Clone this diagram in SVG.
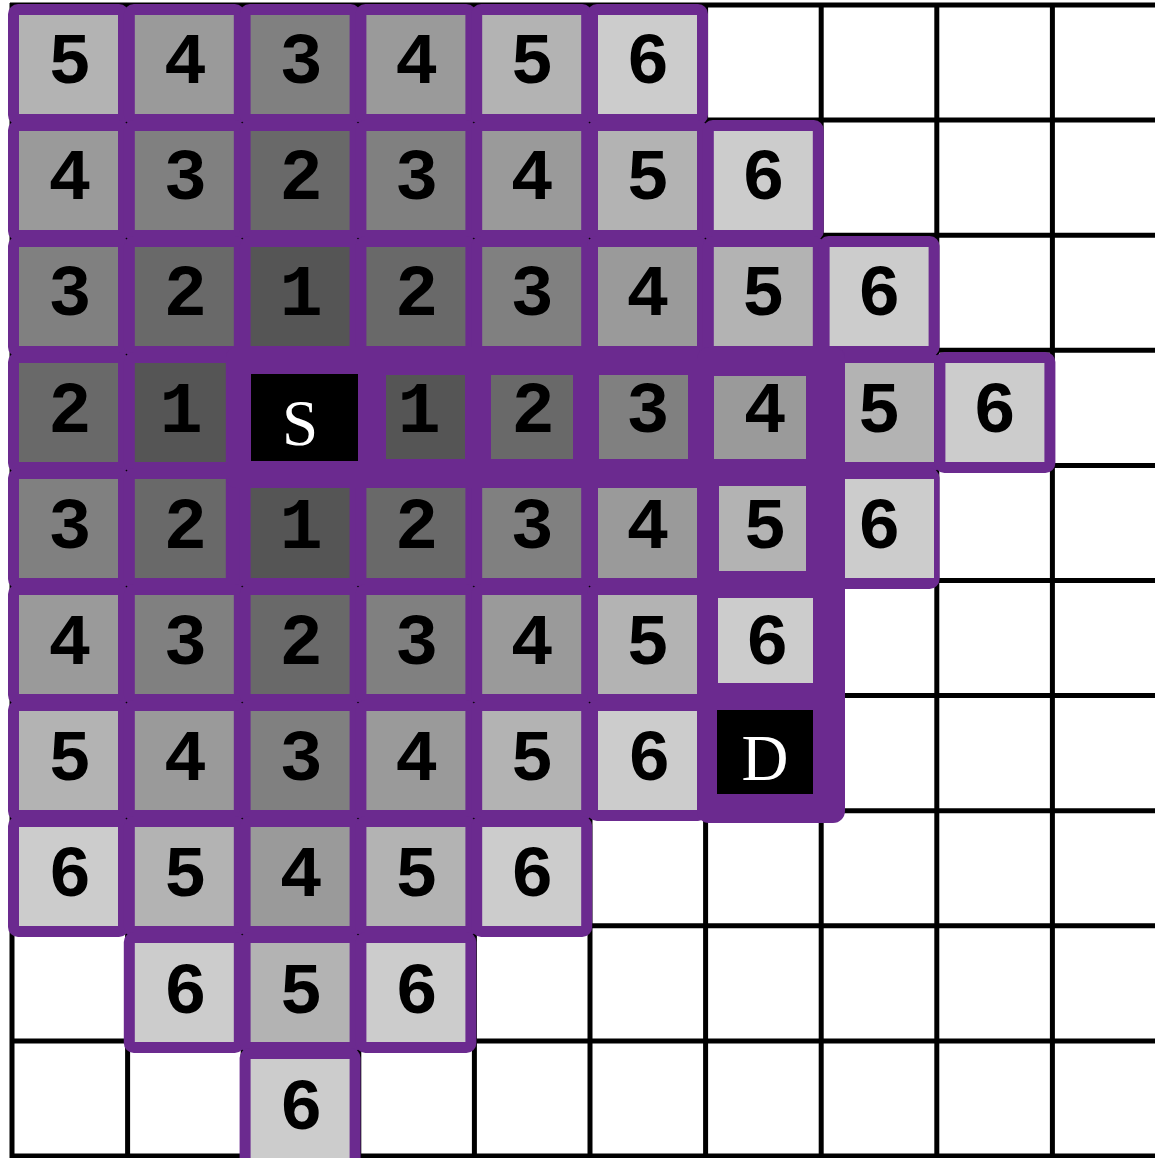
<svg xmlns="http://www.w3.org/2000/svg" width="1155" height="1158" viewBox="0 0 1155 1158">
<style>
.grid line{stroke:#000;stroke-width:5}
.p{fill:#6b2a8f}
.g1{fill:#555555}.g2{fill:#696969}.g3{fill:#808080}.g4{fill:#9a9a9a}.g5{fill:#b3b3b3}.g6{fill:#cccccc}.blk{fill:#000}
.n{font-family:"Liberation Mono","Courier New",monospace;font-weight:bold;font-size:72px;fill:#000;text-anchor:middle}
.sd{font-family:"Liberation Serif","Times New Roman",serif;font-size:65px;fill:#fff;text-anchor:middle}
</style>
<rect x="0" y="0" width="1155" height="1158" fill="#fff"/>
<g id="grid" class="grid">
<line x1="12" y1="3" x2="12" y2="1158"/><line x1="127.6" y1="3" x2="127.6" y2="1158"/><line x1="243.2" y1="3" x2="243.2" y2="1158"/><line x1="358.8" y1="3" x2="358.8" y2="1158"/><line x1="474.4" y1="3" x2="474.4" y2="1158"/><line x1="590" y1="3" x2="590" y2="1158"/><line x1="705.6" y1="3" x2="705.6" y2="1158"/><line x1="821.2" y1="3" x2="821.2" y2="1158"/><line x1="936.8" y1="3" x2="936.8" y2="1158"/><line x1="1052.4" y1="3" x2="1052.4" y2="1158"/>
<line x1="10" y1="5" x2="1155" y2="5"/><line x1="10" y1="120.1" x2="1155" y2="120.1"/><line x1="10" y1="235.2" x2="1155" y2="235.2"/><line x1="10" y1="350.3" x2="1155" y2="350.3"/><line x1="10" y1="465.4" x2="1155" y2="465.4"/><line x1="10" y1="580.5" x2="1155" y2="580.5"/><line x1="10" y1="695.6" x2="1155" y2="695.6"/><line x1="10" y1="810.7" x2="1155" y2="810.7"/><line x1="10" y1="925.8" x2="1155" y2="925.8"/><line x1="10" y1="1040.9" x2="1155" y2="1040.9"/><line x1="10" y1="1156" x2="1155" y2="1156"/>
</g>
<g id="frames" class="p">
<rect x="8" y="4" width="121" height="121" rx="10"/><rect x="123.8" y="4" width="121" height="121" rx="10"/><rect x="239.6" y="4" width="121" height="121" rx="10"/><rect x="355.4" y="4" width="121" height="121" rx="10"/><rect x="471.2" y="4" width="121" height="121" rx="10"/><rect x="587" y="4" width="121" height="121" rx="10"/>
<rect x="8" y="120" width="121" height="121" rx="10"/><rect x="123.8" y="120" width="121" height="121" rx="10"/><rect x="239.6" y="120" width="121" height="121" rx="10"/><rect x="355.4" y="120" width="121" height="121" rx="10"/><rect x="471.2" y="120" width="121" height="121" rx="10"/><rect x="587" y="120" width="121" height="121" rx="10"/><rect x="702.8" y="120" width="121" height="121" rx="10"/>
<rect x="8" y="236" width="121" height="121" rx="10"/><rect x="123.8" y="236" width="121" height="121" rx="10"/><rect x="239.6" y="236" width="121" height="121" rx="10"/><rect x="355.4" y="236" width="121" height="121" rx="10"/><rect x="471.2" y="236" width="121" height="121" rx="10"/><rect x="587" y="236" width="121" height="121" rx="10"/><rect x="702.8" y="236" width="121" height="121" rx="10"/><rect x="818.6" y="236" width="121" height="121" rx="10"/>
<rect x="8" y="352" width="121" height="121" rx="10"/><rect x="123.8" y="352" width="121" height="121" rx="10"/><rect x="818.6" y="352" width="121" height="121" rx="10"/><rect x="934.4" y="352" width="121" height="121" rx="10"/>
<rect x="8" y="468" width="121" height="121" rx="10"/><rect x="123.8" y="468" width="121" height="121" rx="10"/><rect x="239.6" y="468" width="121" height="121" rx="10"/><rect x="355.4" y="468" width="121" height="121" rx="10"/><rect x="471.2" y="468" width="121" height="121" rx="10"/><rect x="587" y="468" width="121" height="121" rx="10"/><rect x="818.6" y="468" width="121" height="121" rx="10"/>
<rect x="8" y="584" width="121" height="121" rx="10"/><rect x="123.8" y="584" width="121" height="121" rx="10"/><rect x="239.6" y="584" width="121" height="121" rx="10"/><rect x="355.4" y="584" width="121" height="121" rx="10"/><rect x="471.2" y="584" width="121" height="121" rx="10"/><rect x="587" y="584" width="121" height="121" rx="10"/>
<rect x="8" y="700" width="121" height="121" rx="10"/><rect x="123.8" y="700" width="121" height="121" rx="10"/><rect x="239.6" y="700" width="121" height="121" rx="10"/><rect x="355.4" y="700" width="121" height="121" rx="10"/><rect x="471.2" y="700" width="121" height="121" rx="10"/><rect x="587" y="700" width="121" height="121" rx="10"/>
<rect x="8" y="816" width="121" height="121" rx="10"/><rect x="123.8" y="816" width="121" height="121" rx="10"/><rect x="239.6" y="816" width="121" height="121" rx="10"/><rect x="355.4" y="816" width="121" height="121" rx="10"/><rect x="471.2" y="816" width="121" height="121" rx="10"/>
<rect x="123.8" y="932" width="121" height="121" rx="10"/><rect x="239.6" y="932" width="121" height="121" rx="10"/><rect x="355.4" y="932" width="121" height="121" rx="10"/>
<rect x="239.6" y="1048" width="121" height="121" rx="10"/>
</g>
<g id="path-frame" class="p">
<rect x="226" y="347" width="619" height="141" rx="10"/>
<rect x="697" y="347" width="148" height="476" rx="12"/>
</g>
<g id="c0-0"><rect class="g5" x="19" y="15" width="99" height="99"/><text class="n" x="69.8" y="83">5</text></g>
<g id="c0-1"><rect class="g4" x="134.8" y="15" width="99" height="99"/><text class="n" x="185.4" y="83">4</text></g>
<g id="c0-2"><rect class="g3" x="250.6" y="15" width="99" height="99"/><text class="n" x="301" y="83">3</text></g>
<g id="c0-3"><rect class="g4" x="366.4" y="15" width="99" height="99"/><text class="n" x="416.6" y="83">4</text></g>
<g id="c0-4"><rect class="g5" x="482.2" y="15" width="99" height="99"/><text class="n" x="532.2" y="83">5</text></g>
<g id="c0-5"><rect class="g6" x="598" y="15" width="99" height="99"/><text class="n" x="647.8" y="83">6</text></g>
<g id="c1-0"><rect class="g4" x="19" y="131" width="99" height="99"/><text class="n" x="69.8" y="199.2">4</text></g>
<g id="c1-1"><rect class="g3" x="134.8" y="131" width="99" height="99"/><text class="n" x="185.4" y="199.2">3</text></g>
<g id="c1-2"><rect class="g2" x="250.6" y="131" width="99" height="99"/><text class="n" x="301" y="199.2">2</text></g>
<g id="c1-3"><rect class="g3" x="366.4" y="131" width="99" height="99"/><text class="n" x="416.6" y="199.2">3</text></g>
<g id="c1-4"><rect class="g4" x="482.2" y="131" width="99" height="99"/><text class="n" x="532.2" y="199.2">4</text></g>
<g id="c1-5"><rect class="g5" x="598" y="131" width="99" height="99"/><text class="n" x="647.8" y="199.2">5</text></g>
<g id="c1-6"><rect class="g6" x="713.8" y="131" width="99" height="99"/><text class="n" x="763.4" y="199.2">6</text></g>
<g id="c2-0"><rect class="g3" x="19" y="247" width="99" height="99"/><text class="n" x="69.8" y="315.4">3</text></g>
<g id="c2-1"><rect class="g2" x="134.8" y="247" width="99" height="99"/><text class="n" x="185.4" y="315.4">2</text></g>
<g id="c2-2"><rect class="g1" x="250.6" y="247" width="99" height="99"/><text class="n" x="301" y="315.4">1</text></g>
<g id="c2-3"><rect class="g2" x="366.4" y="247" width="99" height="99"/><text class="n" x="416.6" y="315.4">2</text></g>
<g id="c2-4"><rect class="g3" x="482.2" y="247" width="99" height="99"/><text class="n" x="532.2" y="315.4">3</text></g>
<g id="c2-5"><rect class="g4" x="598" y="247" width="99" height="99"/><text class="n" x="647.8" y="315.4">4</text></g>
<g id="c2-6"><rect class="g5" x="713.8" y="247" width="99" height="99"/><text class="n" x="763.4" y="315.4">5</text></g>
<g id="c2-7"><rect class="g6" x="829.6" y="247" width="99" height="99"/><text class="n" x="879" y="315.4">6</text></g>
<g id="c3-0"><rect class="g2" x="19" y="363" width="99" height="99"/><text class="n" x="69.8" y="431.6">2</text></g>
<g id="c3-1"><rect class="g1" x="134.8" y="363" width="91" height="99"/><text class="n" x="181" y="431.6">1</text></g>
<g id="S"><rect class="blk" x="251" y="374" width="107" height="87"/><text class="sd" x="300" y="445">S</text></g>
<g id="c3-3"><rect class="g1" x="386" y="375" width="79" height="84"/><text class="n" x="419" y="431.6">1</text></g>
<g id="c3-4"><rect class="g2" x="491" y="375" width="82" height="84"/><text class="n" x="533" y="431.6">2</text></g>
<g id="c3-5"><rect class="g3" x="599" y="375" width="89" height="84"/><text class="n" x="647.8" y="431.6">3</text></g>
<g id="c3-6"><rect class="g4" x="714" y="376" width="92" height="83"/><text class="n" x="765" y="431.6">4</text></g>
<g id="c3-7"><rect class="g5" x="845" y="363" width="89" height="99"/><text class="n" x="879" y="431.6">5</text></g>
<g id="c3-8"><rect class="g6" x="945.4" y="363" width="99" height="99"/><text class="n" x="994.6" y="431.6">6</text></g>
<g id="c4-0"><rect class="g3" x="19" y="479" width="99" height="99"/><text class="n" x="69.8" y="547.8">3</text></g>
<g id="c4-1"><rect class="g2" x="134.8" y="479" width="91" height="99"/><text class="n" x="185.4" y="547.8">2</text></g>
<g id="c4-2"><rect class="g1" x="250.6" y="488" width="99" height="90"/><text class="n" x="301" y="547.8">1</text></g>
<g id="c4-3"><rect class="g2" x="366.4" y="488" width="99" height="90"/><text class="n" x="416.6" y="547.8">2</text></g>
<g id="c4-4"><rect class="g3" x="482.2" y="488" width="99" height="90"/><text class="n" x="532.2" y="547.8">3</text></g>
<g id="c4-5"><rect class="g4" x="598" y="488" width="99" height="90"/><text class="n" x="647.8" y="547.8">4</text></g>
<g id="c4-6"><rect class="g5" x="719" y="486" width="87" height="85"/><text class="n" x="765" y="547.8">5</text></g>
<g id="c4-7"><rect class="g6" x="845" y="479" width="89" height="99"/><text class="n" x="879" y="547.8">6</text></g>
<g id="c5-0"><rect class="g4" x="19" y="595" width="99" height="99"/><text class="n" x="69.8" y="664">4</text></g>
<g id="c5-1"><rect class="g3" x="134.8" y="595" width="99" height="99"/><text class="n" x="185.4" y="664">3</text></g>
<g id="c5-2"><rect class="g2" x="250.6" y="595" width="99" height="99"/><text class="n" x="301" y="664">2</text></g>
<g id="c5-3"><rect class="g3" x="366.4" y="595" width="99" height="99"/><text class="n" x="416.6" y="664">3</text></g>
<g id="c5-4"><rect class="g4" x="482.2" y="595" width="99" height="99"/><text class="n" x="532.2" y="664">4</text></g>
<g id="c5-5"><rect class="g5" x="598" y="595" width="99" height="99"/><text class="n" x="647.8" y="664">5</text></g>
<g id="c5-6"><rect class="g6" x="718" y="598" width="95" height="85"/><text class="n" x="767" y="664">6</text></g>
<g id="c6-0"><rect class="g5" x="19" y="711" width="99" height="99"/><text class="n" x="69.8" y="780.2">5</text></g>
<g id="c6-1"><rect class="g4" x="134.8" y="711" width="99" height="99"/><text class="n" x="185.4" y="780.2">4</text></g>
<g id="c6-2"><rect class="g3" x="250.6" y="711" width="99" height="99"/><text class="n" x="301" y="780.2">3</text></g>
<g id="c6-3"><rect class="g4" x="366.4" y="711" width="99" height="99"/><text class="n" x="416.6" y="780.2">4</text></g>
<g id="c6-4"><rect class="g5" x="482.2" y="711" width="99" height="99"/><text class="n" x="532.2" y="780.2">5</text></g>
<g id="c6-5"><rect class="g6" x="598" y="711" width="99" height="99"/><text class="n" x="649" y="780.2">6</text></g>
<g id="D"><rect class="blk" x="717" y="710" width="96" height="84"/><text class="sd" x="765" y="780">D</text></g>
<g id="c7-0"><rect class="g6" x="19" y="827" width="99" height="99"/><text class="n" x="69.8" y="896.4">6</text></g>
<g id="c7-1"><rect class="g5" x="134.8" y="827" width="99" height="99"/><text class="n" x="185.4" y="896.4">5</text></g>
<g id="c7-2"><rect class="g4" x="250.6" y="827" width="99" height="99"/><text class="n" x="301" y="896.4">4</text></g>
<g id="c7-3"><rect class="g5" x="366.4" y="827" width="99" height="99"/><text class="n" x="416.6" y="896.4">5</text></g>
<g id="c7-4"><rect class="g6" x="482.2" y="827" width="99" height="99"/><text class="n" x="532.2" y="896.4">6</text></g>
<g id="c8-1"><rect class="g6" x="134.8" y="943" width="99" height="99"/><text class="n" x="185.4" y="1012.6">6</text></g>
<g id="c8-2"><rect class="g5" x="250.6" y="943" width="99" height="99"/><text class="n" x="301" y="1012.6">5</text></g>
<g id="c8-3"><rect class="g6" x="366.4" y="943" width="99" height="99"/><text class="n" x="416.6" y="1012.6">6</text></g>
<g id="c9-2"><rect class="g6" x="250.6" y="1059" width="99" height="99"/><text class="n" x="301" y="1128.8">6</text></g>
</svg>
